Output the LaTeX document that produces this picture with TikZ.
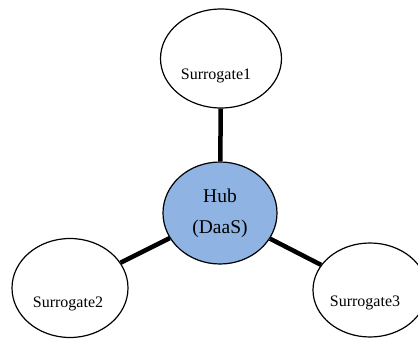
\documentclass[tikz,border=0pt]{standalone}
\usepackage{fontspec}
\setmainfont{Liberation Serif}
\usepackage{tikz}
\usetikzlibrary{shapes.geometric}
\usepackage{xcolor}
\definecolor{hubblue}{RGB}{143,180,227}

\tikzset{
  surr/.style={ellipse, draw=black, line width=1.2pt, fill=white, inner sep=0pt},
  surrtext/.style={inner sep=0pt, font=\fontsize{16}{18}\selectfont},
  hubnode/.style={ellipse, draw=black, line width=1.2pt, fill=hubblue,
    inner sep=0pt, align=center, font=\fontsize{19.5}{31}\selectfont},
  spoke/.style={line width=4.5pt, black}
}

\begin{document}
\begin{tikzpicture}[x=1pt,y=1pt]
		\useasboundingbox (0,0) rectangle (418,338);
		% hub y satelites
		\node[hubnode, minimum width=114pt, minimum height=102pt] (hub) at (220,125) {Hub\\(DaaS)};
		\node[surr, minimum width=121pt, minimum height=99pt] (s1) at (221,279.5) {};
		\node[surr, minimum width=116pt, minimum height=99pt] (s2) at (70,50) {};
		\node[surr, minimum width=114pt, minimum height=94pt] (s3) at (370,48) {};
		% textos
		\node[surrtext] (t1) at (216,262) {Surrogate1};
		\node[surrtext] (t2) at (68,34) {Surrogate2};
		\node[surrtext] (t3) at (365,35) {Surrogate3};
		% conexiones
		\draw[spoke] (s1) -- (hub);
		\draw[spoke] (hub) -- (s2);
		\draw[spoke] (hub) -- (s3);
		\end{tikzpicture}
\end{document}
